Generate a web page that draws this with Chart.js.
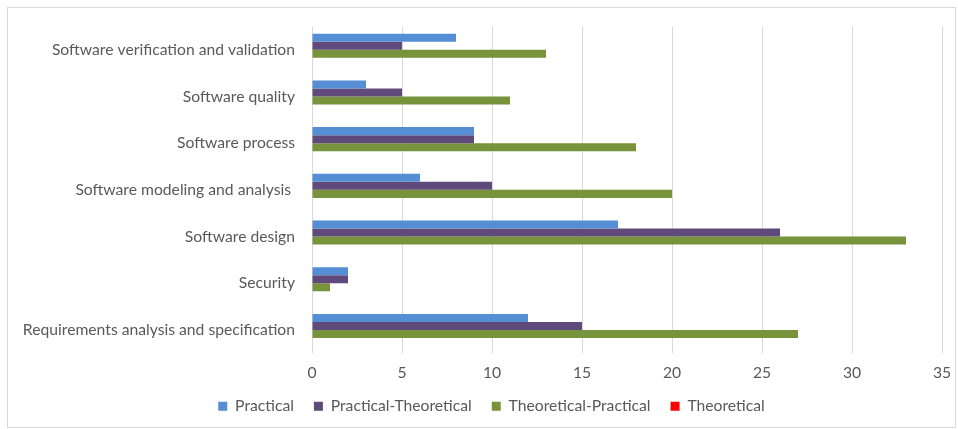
<!DOCTYPE html>
<html>
<head>
<meta charset="utf-8">
<script src="https://cdn.jsdelivr.net/npm/chart.js@4.4.1/dist/chart.umd.min.js"></script>
<style>
  html, body { margin: 0; padding: 0; background: #ffffff; }
  #wrap { position: relative; width: 958px; height: 429px; }
</style>
</head>
<body>
<div id="wrap"><canvas id="chart" width="958" height="429"></canvas></div>
<script>
// Knowledge areas, listed from top to bottom of the chart
const categories = [
  'Software verification and validation',
  'Software quality',
  'Software process',
  'Software modeling and analysis ',
  'Software design',
  'Security',
  'Requirements analysis and specification'
];
const practical            = [8, 3, 9, 6, 17, 2, 12];
const practicalTheoretical = [5, 5, 9, 10, 26, 2, 15];
const theoreticalPractical = [13, 11, 18, 20, 33, 1, 27];
const theoretical          = [0, 0, 0, 0, 0, 0, 0];
const seriesNames = ['Practical', 'Practical-Theoretical', 'Theoretical-Practical', 'Theoretical'];
const xTicks = [0, 5, 10, 15, 20, 25, 30, 35];

const FONT = 'Lato, "Open Sans", sans-serif';
const FONT_SIZE = 15.7;
const TEXT = '#595959';
const GRID = '#D9D9D9';

// Thin frame around the whole chart, plus a small nudge of the legend row
const framePlugin = {
  id: 'frame',
  afterLayout(chart) {
    const lg = chart.legend;
    if (lg) {
      lg.left += 17; lg.right += 17;
      lg.top -= 5; lg.bottom -= 5;
    }
  },
  beforeDraw(chart) {
    const ctx = chart.ctx;
    ctx.save();
    ctx.fillStyle = '#ffffff';
    ctx.fillRect(0, 0, chart.width, chart.height);
    ctx.strokeStyle = GRID;
    ctx.lineWidth = 1;
    ctx.strokeRect(7.5, 7.5, 948, 420);
    ctx.restore();
  }
};

new Chart(document.getElementById('chart'), {
  type: 'bar',
  data: {
    labels: categories,
    datasets: [
      { label: seriesNames[0], data: practical, backgroundColor: '#558ED5' },
      { label: seriesNames[1], data: practicalTheoretical, backgroundColor: '#604A7B' },
      { label: seriesNames[2], data: theoreticalPractical, backgroundColor: '#77933C' },
      { label: seriesNames[3], data: theoretical, backgroundColor: '#FF0000' }
    ]
  },
  options: {
    indexAxis: 'y',
    responsive: false,
    animation: false,
    devicePixelRatio: 1,
    layout: { padding: { top: 24, right: 16, bottom: 0, left: 7 } },
    datasets: {
      bar: { categoryPercentage: 0.687, barPercentage: 1.0, borderWidth: 0 }
    },
    scales: {
      x: {
        min: 0, max: 35,
        afterBuildTicks(scale) { scale.ticks = xTicks.map(v => ({ value: v })); },
        afterFit(scale) { scale.height = 30; },
        grid: { color: GRID, drawTicks: true, tickLength: 8, tickColor: 'rgba(0,0,0,0)' },
        border: { display: false },
        ticks: { color: TEXT, padding: 2, font: { family: FONT, size: FONT_SIZE } }
      },
      y: {
        afterFit(scale) { scale.width = 305; },
        grid: { display: false, drawTicks: false },
        border: { display: false },
        ticks: { color: TEXT, padding: 17, font: { family: FONT, size: FONT_SIZE } }
      }
    },
    plugins: {
      legend: {
        position: 'bottom',
        labels: {
          color: TEXT,
          font: { family: FONT, size: FONT_SIZE },
          boxWidth: 9,
          boxHeight: 9,
          padding: 20
        }
      },
      tooltip: { enabled: false }
    }
  },
  plugins: [framePlugin]
});
</script>
</body>
</html>
